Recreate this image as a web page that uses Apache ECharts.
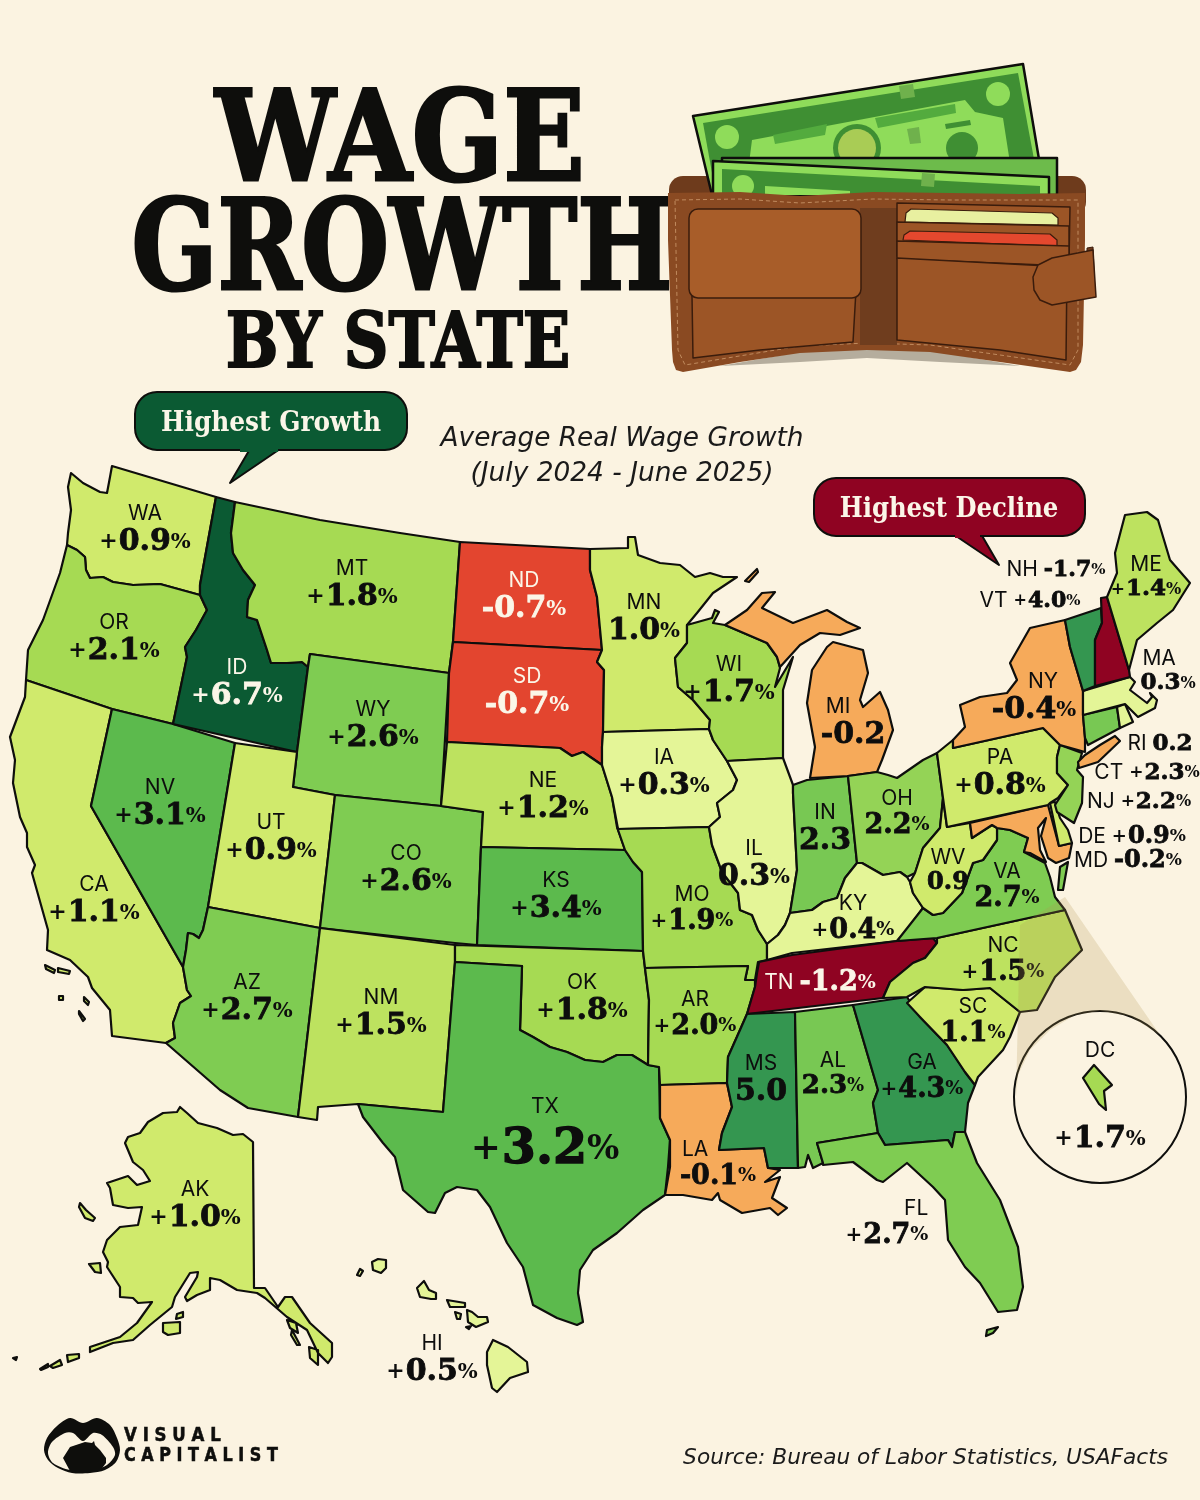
<!DOCTYPE html>
<html>
<head>
<meta charset="utf-8">
<style>html,body{margin:0;padding:0;background:#fbf3e1}#container{width:1200px;height:1500px}</style>
<script src="https://cdn.jsdelivr.net/npm/echarts@6/dist/echarts.min.js"></script>
</head>
<body>
<div id="container"></div>
<script>
var stateCodes = ['WA','OR','CA','NV','ID','MT','WY','UT','AZ','CO','NM','ND','SD','NE','KS','OK','TX','MN','IA','MO','AR','LA','WI','IL','IN','MI','OH','KY','TN','MS','AL','GA','FL','SC','NC','VA','WV','MD','DE','PA','NJ','NY','CT','RI','MA','VT','NH','ME','AK','HI','DC'];
var wageGrowth = [0.9,2.1,1.1,3.1,6.7,1.8,2.6,0.9,2.7,2.6,1.5,-0.7,-0.7,1.2,3.4,1.8,3.2,1.0,0.3,1.9,2.0,-0.1,1.7,0.3,2.3,-0.2,2.2,0.4,-1.2,5.0,2.3,4.3,2.7,1.1,1.5,2.7,0.9,-0.2,0.9,0.8,2.2,-0.4,2.3,0.2,0.3,4.0,-1.7,1.4,1.0,0.5,1.7];
var valueLabels = ['+0.9%','+2.1%','+1.1%','+3.1%','+6.7%','+1.8%','+2.6%','+0.9%','+2.7%','+2.6%','+1.5%','-0.7%','-0.7%','+1.2%','+3.4%','+1.8%','+3.2%','1.0%','+0.3%','+1.9%','+2.0%','-0.1%','+1.7%','0.3%','2.3','-0.2','2.2%','+0.4%','-1.2%','5.0','2.3%','+4.3%','+2.7%','1.1%','+1.5%','2.7%','0.9','-0.2%','+0.9%','+0.8%','+2.2%','-0.4%','+2.3%','0.2','0.3%','+4.0%','-1.7%','+1.4%','+1.0%','+0.5%','+1.7%'];

// colour classes, low to high
var classLimits = [-1, -0.5, 0, 0.6, 1.15, 1.65, 2.15, 2.25, 2.45, 3, 3.8, 5.5];
var classColors = ['#8f0322','#e3452f','#f6aa5a','#e4f597','#d0ea6c','#bde25f','#a6da53','#94d356','#78c853','#7fcc52','#5cba4d','#349650','#0b5a33'];

// state outlines, traced in picture pixels
var outlines = {
  WA: ['71,473 83,483 100,492 107,493 110,477 112,466 216,497 200,585 200,595 160,584 133,585 113,582 103,577 90,578 86,570 85,557 77,550 67,545 68,533 71,510 68,487'],
  OR: ['67,545 77,550 85,557 86,570 90,578 103,577 113,582 133,585 160,584 200,595 207,610 196,630 185,647 187,657 173,724 112,709 26,680 28,650 43,620 60,573'],
  CA: ['26,680 112,709 91,806 183,967 187,990 191,996 180,1003 173,1023 175,1038 166,1043 112,1036 110,1010 92,988 88,977 70,960 47,950 48,930 32,873 35,865 27,847 27,833 20,817 13,783 15,760 10,737 25,697',
       '45,965 55,970 54,973 46,969','58,968 70,971 69,974 58,972','59,996 63,996 63,1000 59,1000','84,997 89,1002 88,1005 84,1001','79,1011 85,1019 83,1021 79,1014'],
  NV: ['112,709 173,724 235,743 208,907 203,930 199,938 193,934 188,933 186,950 183,967 91,806'],
  ID: ['216,497 235,502 231,533 233,553 243,570 255,585 248,600 247,617 257,620 267,650 271,663 287,663 302,662 308,667 297,752 173,724 187,657 185,647 196,630 207,610 200,595 200,585'],
  MT: ['235,502 320,520 400,533 460,542 453,642 449,673 310,654 308,667 302,662 287,663 271,663 267,650 257,620 247,617 248,600 255,585 243,570 233,553 231,533'],
  WY: ['310,654 449,673 441,806 335,795 293,787 297,752 308,667'],
  UT: ['235,743 297,752 293,787 335,795 320,928 208,907'],
  AZ: ['208,907 320,928 298,1117 248,1108 220,1090 166,1043 175,1038 173,1023 180,1003 191,996 187,990 183,967 186,950 188,933 193,934 199,938 203,930'],
  CO: ['335,795 441,806 483,812 481,847 477,945 455,943 320,928'],
  NM: ['320,928 455,945 455,962 443,1112 358,1104 318,1107 317,1120 298,1117'],
  ND: ['460,542 590,549 590,570 597,597 602,650 453,642'],
  SD: ['453,642 602,650 597,662 604,670 603,732 602,747 602,765 583,752 572,756 560,748 447,742 449,673'],
  NE: ['447,742 560,748 572,756 583,752 602,765 612,797 617,827 625,850 481,847 483,812 441,806'],
  KS: ['481,847 625,850 633,862 642,872 643,951 477,945'],
  OK: ['455,945 643,951 645,968 649,1000 648,1065 632,1055 617,1055 603,1062 585,1060 567,1052 550,1047 533,1037 520,1030 522,966 455,962'],
  TX: ['455,962 522,966 520,1030 533,1037 550,1047 567,1052 585,1060 603,1062 617,1055 632,1055 648,1065 659,1067 660,1118 670,1140 668,1167 665,1195 643,1210 617,1233 593,1250 580,1270 578,1293 583,1322 577,1325 557,1318 533,1305 523,1267 507,1243 490,1207 477,1190 457,1187 445,1193 435,1213 428,1212 403,1190 395,1157 383,1143 363,1117 358,1104 443,1112'],
  MN: ['590,549 628,548 628,537 635,537 638,555 660,563 680,565 695,577 710,573 723,577 737,577 713,593 697,613 687,625 687,643 675,658 678,687 693,700 710,720 709,729 603,732 604,670 597,662 602,650 597,597 590,570'],
  IA: ['603,732 709,729 713,740 727,761 737,780 733,790 717,803 720,817 709,827 618,829 612,797 602,765 602,747'],
  MO: ['618,829 709,827 712,845 722,872 738,893 740,910 752,915 758,930 767,944 767,960 758,962 755,980 745,980 748,966 645,968 643,951 642,872 633,862 625,850 617,827'],
  AR: ['645,968 748,966 745,980 755,980 755,987 747,1014 740,1030 728,1057 727,1083 660,1085 659,1067 648,1065 649,1000'],
  LA: ['660,1085 727,1083 732,1107 722,1133 719,1150 764,1148 768,1168 780,1170 765,1182 780,1177 772,1198 787,1208 778,1215 770,1208 742,1213 720,1200 718,1193 712,1200 683,1195 665,1195 670,1167 670,1140 660,1118'],
  WI: ['687,625 712,618 715,610 719,612 713,623 725,625 767,643 777,657 780,668 775,687 793,657 783,690 783,730 783,758 727,761 713,740 709,729 710,720 693,700 678,687 675,658 687,643'],
  IL: ['727,761 783,758 793,785 793,793 797,870 790,913 785,925 778,935 767,944 758,930 752,915 740,910 738,893 722,872 712,845 709,827 720,817 717,803 733,790 737,780'],
  IN: ['793,785 807,780 848,776 857,863 845,878 837,898 823,902 812,910 790,913 797,870 793,793'],
  MI: ['810,778 815,747 807,703 812,670 827,647 833,642 863,650 868,673 860,700 863,707 880,692 888,710 893,730 882,760 877,772 848,776',
       '725,625 747,610 762,593 775,592 762,608 793,623 827,610 847,622 860,628 840,635 820,633 800,645 780,667 777,657 767,643',
       '745,581 757,569 758,572 749,582'],
  OH: ['848,776 877,772 888,775 897,778 923,760 937,753 943,798 940,828 923,848 915,873 907,877 900,872 883,875 862,863 857,863'],
  KY: ['767,944 778,935 785,925 790,913 812,910 823,902 837,898 845,878 857,863 862,863 883,875 900,872 907,877 910,882 913,893 923,908 907,930 897,941 792,953 767,960'],
  TN: ['759,962 792,955 897,941 933,938 937,943 925,958 913,963 890,982 883,998 747,1014 755,987 757,973'],
  MS: ['747,1014 795,1012 798,1168 768,1168 764,1148 719,1150 722,1133 732,1107 727,1083 728,1057 740,1030'],
  AL: ['795,1012 853,1005 878,1090 873,1103 878,1133 817,1143 823,1163 813,1168 808,1155 805,1167 798,1168'],
  GA: ['853,1005 907,997 920,1017 947,1045 965,1072 975,1085 968,1103 965,1132 955,1132 952,1147 948,1140 885,1145 878,1133 873,1103 878,1090'],
  FL: ['817,1143 878,1133 885,1145 948,1140 952,1147 955,1132 965,1132 977,1163 1000,1200 1018,1247 1023,1287 1017,1310 998,1312 980,1283 965,1267 948,1240 945,1200 933,1187 907,1163 883,1182 877,1180 853,1162 823,1165 823,1163',
       '987,1330 998,1327 993,1333 986,1336'],
  SC: ['907,1003 925,987 963,990 990,988 1020,1012 1010,1037 1003,1050 978,1077 975,1085 965,1072 947,1045 920,1017'],
  NC: ['937,938 1065,910 1082,950 1055,977 1037,1010 1020,1012 990,988 963,990 925,987 907,997 883,998 890,982 913,963 925,958 937,943'],
  VA: ['897,941 923,908 933,915 943,913 962,893 973,863 983,860 997,840 997,828 1010,830 1028,838 1024,852 1045,863 1050,877 1055,897 1065,910 937,938',
       '1060,867 1068,862 1063,890 1058,890'],
  WV: ['910,882 915,873 923,848 940,828 943,798 947,827 970,823 972,838 992,825 997,828 997,840 983,860 973,863 962,893 943,913 933,915 923,908 913,893'],
  MD: ['970,823 1048,805 1059,846 1072,843 1069,858 1056,863 1048,858 1041,836 1046,818 1038,828 1040,850 1046,862 1030,853 1024,852 1028,838 1010,830 997,828 992,825 972,838'],
  DE: ['1050,803 1055,802 1060,818 1068,830 1072,843 1059,846'],
  PA: ['937,753 953,740 953,748 1043,728 1053,738 1060,745 1057,757 1057,773 1068,785 1058,798 1050,803 1048,805 947,827 943,798'],
  NJ: ['1060,745 1082,753 1077,770 1083,777 1082,803 1074,823 1057,812 1055,805 1068,785 1057,773 1057,757'],
  NY: ['953,740 965,727 960,705 980,697 1007,693 1017,680 1010,663 1030,628 1065,620 1070,647 1083,691 1083,715 1085,738 1085,752 1060,745 1053,738 1043,728 953,748',
       '1079,768 1098,762 1120,741 1115,736 1100,745 1085,755 1078,762'],
  CT: ['1083,715 1117,707 1120,728 1088,745 1085,738'],
  RI: ['1117,707 1125,704 1133,722 1120,728'],
  MA: ['1083,691 1130,677 1135,682 1130,690 1147,703 1152,697 1150,693 1157,700 1155,708 1138,717 1125,704 1083,715'],
  VT: ['1065,620 1101,608 1102,623 1095,640 1095,686 1083,691 1070,647'],
  NH: ['1101,598 1107,597 1129,670 1130,677 1095,686 1095,640 1102,623'],
  ME: ['1107,597 1117,573 1115,553 1125,515 1147,512 1158,520 1170,560 1190,583 1173,610 1157,623 1137,640 1129,670'],
  AK: ['180,1107 187,1113 198,1123 217,1128 233,1135 243,1134 253,1142 254,1288 265,1288 278,1307 285,1297 292,1297 310,1323 332,1343 332,1357 328,1363 318,1353 307,1330 287,1317 265,1298 257,1293 237,1290 220,1280 210,1278 210,1290 197,1295 187,1301 185,1297 197,1277 198,1272 190,1273 175,1297 172,1307 150,1325 133,1340 113,1343 90,1352 90,1347 120,1337 137,1323 152,1302 138,1303 133,1298 120,1297 120,1287 107,1267 108,1262 103,1252 107,1240 120,1227 138,1225 142,1207 128,1208 113,1205 110,1188 107,1183 128,1176 137,1185 150,1181 143,1170 133,1162 125,1143 128,1137 140,1133 148,1122 163,1113 177,1112',
       '89,1264 100,1263 101,1273 95,1272','80,1203 86,1210 95,1218 93,1221 85,1218 79,1207','163,1323 180,1322 180,1333 168,1335 163,1332','177,1314 183,1312 183,1317 176,1319','67,1355 79,1354 79,1358 68,1362','50,1366 60,1360 62,1365 53,1368','40,1369 48,1364 48,1367 41,1370',
       '287,1320 296,1323 298,1333 290,1328','292,1330 300,1345 297,1345 291,1335','309,1347 318,1350 318,1365 310,1358'],
  HI: ['493,1340 508,1347 527,1362 528,1372 510,1378 497,1392 492,1388 487,1365 487,1352','467,1310 472,1312 478,1317 487,1317 488,1322 476,1327 468,1322','447,1300 465,1303 465,1307 450,1307','455,1312 461,1314 460,1319 457,1319','466,1327 471,1326 469,1329','417,1288 424,1281 429,1290 436,1293 436,1299 431,1299 420,1297','372,1262 378,1259 386,1260 386,1268 381,1273 373,1270','357,1275 360,1269 363,1271 360,1276','13,1358 17,1357 16,1360'],
  DC: ['1094,1065 1112,1085 1104,1091 1106,1110 1099,1104 1083,1078']
};

// where each label sits
var labelAt = {
  WA:[145,526],OR:[114,635],CA:[94,897],NV:[160,800],ID:[237,680],MT:[352,581],WY:[373,722],UT:[271,835],AZ:[247,995],CO:[406,866],NM:[381,1010],
  ND:[524,593],SD:[527,689],NE:[543,793],KS:[556,893],OK:[582,995],TX:[545,1128],MN:[644,615],IA:[664,770],MO:[692,905],AR:[695,1010],LA:[718,1160],
  WI:[729,677],IL:[754,861],IN:[825,825],MI:[853,719],OH:[897,809],KY:[853,914],TN:[820,979],MS:[761,1076],AL:[833,1070],GA:[922,1073],FL:[887,1219],
  SC:[973,1017],NC:[1003,956],VA:[1007,882],WV:[948,866],MD:[1128,857],DE:[1132,833],PA:[1000,770],NJ:[1139,798],NY:[1034,694],CT:[1147,769],RI:[1160,740],
  MA:[1168,667],VT:[1030,597],NH:[1056,566],ME:[1146,573],AK:[195,1202],HI:[432,1356],DC:[1100,1093]
};
var labelNudge = 4;
var inlineStates = ['NH','VT','RI','CT','NJ','DE','MD','TN'];
var whiteText = ['ID','ND','SD','TN'];
var valueSizes = {TX:49,NH:22,VT:22,ME:23,MA:23,RI:23,CT:23,NJ:23,DE:24,MD:24,WV:24,KY:27,SC:27,AR:27,LA:27,VA:27,OH:27,AL:26,GA:27,FL:27,NC:27,TN:27,MO:27};
var leftNames = ['LA','MA'];
var nameShift = { MI: [0, 30, 0, 0], NY: [0, 0, 0, 18] };

function ring(s) {
  var pts = s.split(' ').map(function (p) { return p.split(',').map(Number); });
  pts.push(pts[0]);
  return [pts];
}
var features = stateCodes.map(function (code) {
  return {
    type: 'Feature',
    properties: { name: code, cp: [labelAt[code][0], labelAt[code][1] + labelNudge] },
    geometry: { type: 'MultiPolygon', coordinates: outlines[code].map(ring) }
  };
});
echarts.registerMap('usWage', { type: 'FeatureCollection', features: features });

var pieces = classColors.map(function (c, i) {
  var p = { color: c };
  if (i > 0) p.gte = classLimits[i - 1];
  if (i < classLimits.length) p.lt = classLimits[i];
  return p;
});

var serif = '"DejaVu Serif"';
var nameFont = { fontFamily: 'Inter', fontSize: 21, lineHeight: 25 };

// same token set for dark and for white label text; the border makes the digits heavier
function makeRich(color) {
  var rich = {
    n: Object.assign({ align: 'center', color: color }, nameFont),
    nr: Object.assign({ align: 'right', color: color }, nameFont),
    nl: Object.assign({ align: 'left', padding: [0, 0, 0, 2], color: color }, nameFont),
    nMI: Object.assign({ align: 'center', padding: nameShift.MI, color: color }, nameFont),
    nNY: Object.assign({ align: 'center', padding: nameShift.NY, color: color }, nameFont),
    nTX: { fontFamily: 'Inter', fontSize: 21, lineHeight: 36, align: 'center', color: color },
    ni: { fontFamily: 'Inter', fontSize: 21, color: color },
    sp: { fontSize: 20, lineHeight: 20 }
  };
  [22,23,24,26,27,30,49].forEach(function (z) {
    var heavy = { textBorderColor: color, textBorderWidth: z > 40 ? 1.4 : 0.8 };
    rich['s' + z] = { fontFamily: serif, fontSize: Math.round(z * 0.74), fontWeight: 'bold', padding: [0, 1, 0, 0], color: color };
    rich['m' + z] = Object.assign({ fontFamily: serif, fontSize: z, fontWeight: 'bold', color: color }, heavy);
    rich['v' + z] = Object.assign({ fontFamily: serif, fontSize: z, fontWeight: 'bold', lineHeight: Math.round(z * 1.05), color: color }, heavy);
    rich['p' + z] = { fontFamily: serif, fontSize: Math.round(z * 0.7), fontWeight: 'bold', color: color };
  });
  return rich;
}
var richDark = makeRich('#0d0d0d');
var richLight = makeRich('#fbf6e8');

function labelText(code, text) {
  var z = valueSizes[code] || 30;
  var sign = text.charAt(0);
  var num = text.replace(/[+%-]/g, '');
  var pct = text.indexOf('%') >= 0 ? '{p' + z + '|%}' : '';
  var head = sign === '+' ? '{s' + z + '|+}' : sign === '-' ? '{m' + z + '|-}' : '';
  var val = head + '{v' + z + '|' + num + '}' + pct;
  if (inlineStates.indexOf(code) >= 0) return '{ni|' + code + ' }' + val;
  if (code === 'DC') return '{n|DC}\n{sp| }\n{sp| }\n{sp| }\n' + val;
  if (code === 'FL') return '{nr|FL}\n' + val;
  if (code === 'TX') return '{nTX|TX}\n' + val;
  if (code === 'MI') return '{nMI|MI}\n' + val;
  if (code === 'NY') return '{nNY|NY}\n' + val;
  if (leftNames.indexOf(code) >= 0) return '{nl|' + code + '}\n' + val;
  return '{n|' + code + '}\n' + val;
}

var seriesData = stateCodes.map(function (code, i) {
  return {
    name: code,
    value: wageGrowth[i],
    shownLabel: valueLabels[i],
    label: { rich: whiteText.indexOf(code) >= 0 ? richLight : richDark }
  };
});

// ---- decoration helpers
function poly(pts, fill, stroke, lw, z, smooth) {
  return { type: 'polygon', z: z, silent: true, shape: { points: pts, smooth: smooth || 0 }, style: { fill: fill, stroke: stroke || null, lineWidth: lw || 0, lineJoin: 'round' } };
}
function line(pts, stroke, lw, z, dash) {
  return { type: 'polyline', z: z, silent: true, shape: { points: pts }, style: { fill: null, stroke: stroke, lineWidth: lw, lineDash: dash || null } };
}
function dot(cx, cy, r, fill, stroke, lw, z) {
  return { type: 'circle', z: z, silent: true, shape: { cx: cx, cy: cy, r: r }, style: { fill: fill, stroke: stroke || null, lineWidth: lw || 0 } };
}
function box(x, y, w, h, r, fill, stroke, lw, z) {
  return { type: 'rect', z: z, silent: true, shape: { x: x, y: y, width: w, height: h, r: r }, style: { fill: fill, stroke: stroke || null, lineWidth: lw || 0 } };
}
function txt(s, x, y, font, fill, opts) {
  opts = opts || {};
  return {
    type: 'text', z: opts.z || 4, silent: true, x: x, y: y, scaleX: opts.scaleX || 1,
    style: { text: s, font: font, fill: fill, textAlign: opts.align || 'center', textVerticalAlign: 'middle', stroke: opts.stroke || null, lineWidth: opts.lw || 0 }
  };
}

var ink = '#0e0e0c';
var leather = '#9c5526', leatherDark = '#6e3b1c', leatherLight = '#a85d29', seam = '#3a1c0c', stitch = '#c08a5e';
var billLight = '#8fdc5a', billDark = '#3f8f33', billBar = '#53ab3e';

var wallet = [
  // shadow under the fold
  poly([[720,366],[800,352],[867,348],[940,352],[1020,366],[940,362],[867,358],[800,362]], '#b5ad9d', null, 0, 3),
  // bills
  poly([[693,116],[1023,64],[1045,195],[712,195]], billLight, ink, 2.5, 5),
  poly([[703,123],[1018,73],[1036,170],[1040,195],[716,195]], billDark, null, 0, 5),
  poly([[752,140],[965,100],[975,112],[1003,118],[1015,195],[745,195]], billLight, null, 0, 5),
  dot(727,137,12,billLight,null,0,5), dot(998,94,12,billLight,null,0,5),
  poly([[773,135],[827,124],[825,135],[775,144]], billBar, null, 0, 5),
  poly([[875,118],[955,104],[956,113],[878,128]], billBar, null, 0, 5),
  poly([[945,124],[970,120],[971,125],[946,129]], billDark, null, 0, 5),
  dot(857,148,24,billDark,null,0,5), dot(857,148,19,'#a9cc55',null,0,5),
  dot(962,148,16,billDark,null,0,5),
  poly([[907,129],[919,127],[921,143],[910,144]], '#6fb14c', null, 0, 5),
  poly([[899,86],[913,84],[915,97],[901,99]], '#6fb14c', null, 0, 5),
  poly([[722,158],[1057,158],[1057,195],[722,195]], '#6dbb4b', ink, 2.5, 5),
  poly([[713,161],[1049,177],[1049,195],[713,195]], billLight, ink, 2.5, 5),
  poly([[722,169],[1040,186],[1040,195],[722,195]], billDark, null, 0, 5),
  dot(743,186,11,billLight,null,0,5),
  poly([[765,186],[850,191],[850,195],[765,195]], billLight, null, 0, 5),
  poly([[922,173],[935,174],[934,187],[921,186]], '#6fb14c', null, 0, 5),
  // wallet body
  box(669,176,417,40,14,leatherDark,null,0,4),
  poly([[668,193],[740,192],[800,196],[873,192],[950,193],[1020,194],[1085,193],[1085,240],[1083,345],[1081,362],[1076,370],[1070,372],[1000,362],[930,352],[867,350],[800,353],[740,362],[683,372],[676,370],[673,362],[672,350],[668,240]], '#8a4a22', null, 0, 6),
  line([[675,200],[740,199],[800,203],[873,199],[950,200],[1078,200],[1078,350],[1070,365],[930,345],[867,343],[800,346],[685,365],[678,350],[675,200]], stitch, 1, 6, [4,3]),
  poly([[860,208],[897,208],[897,345],[860,345]], '#6f3d1e', null, 0, 6),
  // left pocket and flap
  poly([[692,296],[856,290],[853,342],[760,350],[693,358]], leather, seam, 1.5, 6),
  box(689,209,172,89,9,leatherLight,seam,1.5,6),
  // right pockets with cards
  poly([[897,203],[1070,207],[1069,262],[897,256]], leather, seam, 1.5, 6),
  poly([[905,222],[906,213],[911,209],[1052,213],[1058,218],[1058,225]], '#e8f0a0', seam, 1.2, 6),
  poly([[897,222],[1069,226],[1069,262],[897,256]], leather, seam, 1.5, 6),
  poly([[903,240],[904,235],[910,231],[1050,234],[1057,240],[1057,246]], '#e4482e', seam, 1.2, 6),
  poly([[897,241],[1069,246],[1069,266],[897,259]], leather, seam, 1.5, 6),
  poly([[897,258],[1067,267],[1066,360],[1000,350],[897,340]], leather, seam, 1.5, 6),
  // clasp
  poly([[1087,248],[1093,247],[1094,270],[1087,262]], leatherDark, seam, 1, 6),
  poly([[1052,258],[1093,250],[1096,297],[1052,305],[1040,300],[1034,290],[1033,277],[1038,265]], leather, seam, 1.5, 7)
];

var logo = [
  poly([[44,1450],[47,1438],[57,1426],[70,1418],[83,1423],[97,1418],[110,1425],[117,1438],[120,1450],[116,1462],[105,1470],[90,1473],[72,1473],[58,1468],[48,1460]], ink, null, 0, 4, 0.3),
  poly([[48,1453],[52,1442],[65,1433],[73,1433],[83,1441],[93,1433],[102,1435],[113,1447],[115,1455],[107,1465],[93,1470],[70,1470],[53,1463]], '#fbf3e1', null, 0, 4, 0.3),
  poly([[63,1458],[70,1447],[85,1442],[92,1443],[94,1441],[95,1445],[100,1450],[106,1458],[106,1463],[100,1471],[70,1471]], ink, null, 0, 4),
  txt('V I S U A L', 124, 1436, '900 20px "DejaVu Sans"', ink, { align: 'left', scaleX: 0.83, stroke: ink, lw: 0.6 }),
  txt('C A P I T A L I S T', 124, 1456, '900 20px "DejaVu Sans"', ink, { align: 'left', scaleX: 0.8, stroke: ink, lw: 0.6 })
];

var callouts = [
  poly([[250,449],[280,449],[230,483]], '#0b5a33', ink, 2, 4),
  box(135,392,272,58,22,'#0b5a33',ink,2,4),
  box(240,446,38,6,0,'#0b5a33',null,0,4),
  txt('Highest Growth', 271, 424, 'bold 27px "DejaVu Serif"', '#fbf6e8', { scaleX: 0.92 }),
  poly([[953,534],[981,534],[999,565]], '#8f0322', ink, 2, 4),
  box(814,478,271,58,22,'#8f0322',ink,2,4),
  box(955,532,25,6,0,'#8f0322',null,0,4),
  txt('Highest Decline', 949, 510, 'bold 27px "DejaVu Serif"', '#fbf6e8', { scaleX: 0.9 })
];

var inset = [
  dot(1100,1097,86,'#fbf3e1',ink,2,1),
  poly([[1065,897],[1020,925],[1016,1097],[1018,1075],[1030,1050],[1050,1030],[1075,1015],[1100,1011],[1130,1016],[1160,1035]], 'rgba(176,150,84,0.22)', null, 0, 3)
];

var titles = [
  txt('WAGE', 400, 147, 'bold 126px "DejaVu Serif"', ink, { scaleX: 0.85, stroke: ink, lw: 3 }),
  txt('GROWTH', 402, 256, 'bold 126px "DejaVu Serif"', ink, { scaleX: 0.8, stroke: ink, lw: 3 }),
  txt('BY STATE', 398, 347, 'bold 76px "DejaVu Serif"', ink, { scaleX: 0.82, stroke: ink, lw: 2 }),
  txt('Average Real Wage Growth', 622, 439, 'italic 26.4px "DejaVu Sans"', '#1a1a1a'),
  txt('(July 2024 - June 2025)', 622, 474, 'italic 26.4px "DejaVu Sans"', '#1a1a1a'),
  txt('Source: Bureau of Labor Statistics, USAFacts', 1168, 1458, 'italic 21.7px "DejaVu Sans"', '#1a1a1a', { align: 'right' })
];

var dom = document.getElementById('container');
var myChart = echarts.init(dom, null, { renderer: 'canvas' });

var option = {
  backgroundColor: '#fbf3e1',
  animation: false,
  visualMap: { type: 'piecewise', show: false, seriesIndex: 0, dimension: 0, pieces: pieces },
  graphic: { elements: titles.concat(wallet, callouts, inset, logo) },
  series: [
    {
      type: 'map',
      map: 'usWage',
      projection: {
        project: function (p) { return [p[0], p[1]]; },
        unproject: function (p) { return [p[0], p[1]]; }
      },
      boundingCoords: [[0, 0], [1200, 1500]],
      left: 0,
      top: 0,
      width: 1200,
      height: 1500,
      roam: false,
      silent: true,
      selectedMode: false,
      z: 2,
      itemStyle: { borderColor: ink, borderWidth: 2.2, borderJoin: 'round' },
      emphasis: { disabled: true },
      label: {
        show: true,
        formatter: function (p) { return labelText(p.name, p.data.shownLabel); },
        rich: richDark
      },
      data: seriesData
    }
  ]
};

myChart.setOption(option);
window.addEventListener('resize', myChart.resize);
</script>
</body>
</html>
